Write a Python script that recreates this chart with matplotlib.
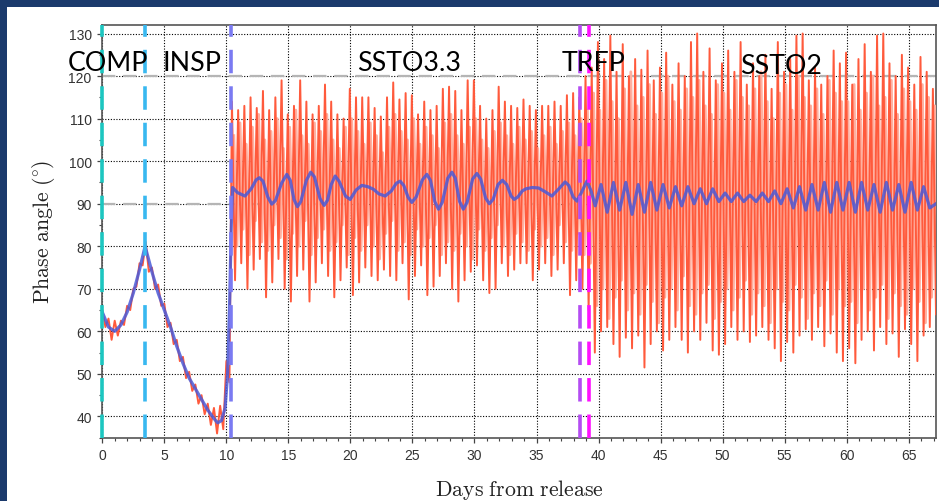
import numpy as np
import matplotlib

matplotlib.use("Agg")
import matplotlib.pyplot as plt
from matplotlib.patches import Rectangle
from matplotlib.ticker import MultipleLocator

plt.rcParams["mathtext.fontset"] = "cm"

# --- phase angle, red trace -------------------------------------------------
# COMP / INSP drift, one sample every quarter day from day 0
early_red = [65, 61, 63, 58, 62.5, 59, 62.5, 61.5, 66, 65, 70, 70.5, 76, 75.5,
             81, 74, 75, 70, 71, 66, 66.5, 61, 62, 57, 58, 53, 54, 49, 50.5,
             46, 47.5, 43, 45, 40.5, 43, 38, 42, 36, 42.5, 37, 53, 48]

# SSTO3.3 swings: one high and one low per half day (outer strokes)
ssto33_high = [114, 112, 113, 115, 112.5, 116.5, 112, 115, 119, 111, 113, 119,
               114, 111, 113, 118, 114, 111, 110,
               117, 115, 115, 115, 112.5, 110.5, 115, 118.5, 114.5, 116, 115.5,
               111, 114, 112, 113, 117, 117.5, 116.5, 112, 119,
               119, 113, 110, 112, 117.5, 114, 113, 112.5, 114.5, 113, 112,
               113, 113, 114, 113, 115.5, 116, 115, 120]
ssto33_low = [72, 76, 70, 74.5, 77, 68, 71.5, 77, 70, 67, 73, 74.5, 67, 71.5,
              76, 73, 68, 72, 75,
              68.5, 71.5, 75, 73, 72, 74.5, 73, 72, 76, 67.5, 73, 75.5, 68.5,
              70.5, 73, 76, 70, 67, 72, 74,
              75.5, 72, 69, 70, 76, 73, 74.5, 76, 76, 72, 74.5, 76, 73, 74.5,
              76, 68.5, 72, 70, 65]
# inner strokes, between the outer ones
ssto33_high_in = [106, 109, 104, 108, 111, 105, 107, 110, 103, 108, 112, 106,
                  104, 109, 107, 111, 105, 103, 108,
                  110, 107, 104, 109, 106, 102, 108, 111, 107, 105, 110, 104,
                  108, 106, 103, 109, 111, 106, 104, 108,
                  110, 105, 103, 107, 109, 106, 104, 108, 105, 107, 103, 106,
                  108, 104, 107, 109, 106, 110, 112]
ssto33_low_in = [80, 84, 78, 86, 81, 79, 85, 82, 77, 83, 80, 86, 78, 82, 84,
                 79, 81, 85, 78,
                 82, 79, 85, 80, 77, 83, 86, 79, 81, 78, 84, 80, 82, 85, 78,
                 81, 79, 83, 80, 77,
                 84, 79, 82, 85, 80, 78, 83, 81, 79, 84, 80, 82, 78, 85, 81,
                 79, 83, 78, 76]

# SSTO2 swings after the TRFP manoeuvre
ssto2_high = [122, 128, 124, 129.5, 121, 127.5, 120, 124, 121.5, 126, 119, 122,
              125.5, 118, 123, 120, 128, 130, 121, 126.5, 119, 123,
              126, 121, 128, 118, 123, 120, 125, 117, 128, 121, 124, 129.5,
              130, 119, 122, 118, 120, 126, 123,
              125.5, 118, 124, 127.5, 121, 129.5, 130, 123, 120, 125, 122,
              118, 124.5, 121, 117]
ssto2_low = [55, 60, 61, 57, 54, 58.5, 56, 59, 51.5, 57, 60, 55.5, 58, 61, 58,
             55, 60, 58, 62, 55.5, 54.5, 57,
             61, 58, 60, 57.5, 59, 61, 58, 56, 53, 57.5, 55, 59, 60.5, 58, 61,
             56.5, 59.5, 55, 53,
             56, 52.5, 58, 60, 55.5, 61, 57, 59.5, 54, 60.5, 57, 53, 59, 61, 64]
ssto2_high_in = [116, 112, 119, 114, 110, 117, 121, 113, 115, 118, 111, 116,
                 120, 114, 112, 117, 115, 119, 113, 111, 118, 116,
                 112, 119, 115, 113, 117, 121, 114, 110, 116, 118, 112, 120,
                 115, 113, 117, 111, 119, 116, 114,
                 114, 118, 112, 116, 120, 113, 115, 119, 111, 117, 114, 112,
                 118, 115, 113]
ssto2_low_in = [66, 70, 63, 68, 72, 65, 69, 64, 71, 67, 62, 68, 70, 65, 73, 66,
                64, 69, 71, 63, 67, 70,
                65, 68, 72, 64, 69, 66, 62, 70, 67, 65, 71, 68, 63, 69, 66, 72,
                64, 70, 66,
                67, 62, 70, 65, 68, 71, 63, 69, 66, 64, 70, 67, 62, 68, 71]

# --- mean phase angle, blue trace ---------------------------------------------
mean_days = [0, 0.5, 1.0, 1.5, 2.0, 2.5, 3.0, 3.45, 4.0, 4.5, 5.0, 5.5, 6.0,
             6.5, 7.0, 7.5, 8.0, 8.5, 9.0, 9.3, 9.6, 9.9, 10.1, 10.25, 10.4,
             10.5, 10.9, 11.5, 12.0, 12.4, 12.66, 12.95, 13.35, 13.66, 13.95,
             14.45, 14.87, 15.15, 15.45, 15.73, 16.0, 16.45, 16.8, 17.1, 17.55,
             17.88, 18.15, 18.45, 18.77, 19.1, 19.6, 19.98, 20.45, 20.92, 21.4,
             21.85, 22.3, 22.8, 23.3, 23.7, 24.0, 24.3, 24.65, 24.95, 25.3,
             25.8, 26.16, 26.45, 26.8, 27.1, 27.4, 27.85, 28.18, 28.45, 28.8,
             29.1, 29.4, 29.85, 30.19, 30.5, 30.9, 31.2, 31.5, 31.9, 32.25,
             32.6, 32.95, 33.2, 33.5, 33.85, 34.15, 34.65, 35.16, 35.7, 36.24,
             36.8, 37.3, 37.6, 37.95, 38.26, 38.6, 39.06, 39.4, 39.73,
             40.2, 40.7, 41.2, 41.7, 42.2, 42.7, 43.2, 43.7, 44.2, 44.7, 45.2,
             45.7, 46.2, 46.7, 47.2, 47.7, 48.2, 48.7, 49.2, 49.7, 50.2, 50.7,
             51.2, 51.7, 52.2, 52.7, 53.2, 53.7, 54.2, 54.7, 55.2, 55.7, 56.2,
             56.7, 57.2, 57.7, 58.2, 58.7, 59.2, 59.7, 60.2, 60.7, 61.2, 61.7,
             62.2, 62.7, 63.2, 63.7, 64.2, 64.7, 65.2, 65.7, 66.2, 66.7, 67.2]
mean_phase = [64.5, 61, 60, 61.5, 64.5, 69, 74.5, 80, 74, 69, 65, 61, 56.5,
              52.5, 49, 46.5, 44, 41.5, 39.5, 38.5, 39, 42, 50, 65, 85,
              93.8, 92.6, 91.8, 93.5, 95.6, 96.1, 95.3, 91.5, 89.9, 90.7,
              94.8, 96.9, 95.5, 91.0, 89.3, 90.5, 95.5, 97.4, 96.3, 91.2,
              89.6, 90.8, 94.5, 96.5, 95.2, 91.8, 91.0, 93.2, 94.3, 94.0,
              93.4, 92.3, 91.8, 93.0, 94.8, 95.3, 94.3, 91.5, 90.3, 91.6,
              95.6, 96.9, 95.5, 90.5, 88.7, 90.3, 96.0, 97.4, 96.0, 90.5,
              88.7, 90.3, 95.8, 97.1, 95.8, 91.3, 90.0, 91.0, 94.5, 95.5,
              94.5, 91.8, 91.0, 91.6, 93.0, 93.5, 93.8, 93.7, 92.8, 91.8,
              93.5, 95.1, 94.3, 91.6, 90.6, 92.5, 95.3, 93.0, 89.5,
              94.5, 88, 95, 88.5, 95, 87.5, 94.5, 88, 95, 88.5, 94.5,
              89, 94, 89.5, 94, 90, 93.5, 90, 93.5, 90.5, 92.5, 90.5,
              92.5, 90.5, 92, 90.5, 92.5, 90.5, 93, 90, 93.5, 89, 94,
              88.5, 94.5, 88.5, 95, 88, 95, 88.5, 95, 88, 95, 88.5,
              94.5, 88, 95, 88.5, 94.5, 88, 95, 88.5, 94, 89, 90]

# event markers (day, colour) and phase labels (day, angle, text)
events = [(0.0, "#1cc6c0"), (3.45, "#38b8f0"), (10.4, "#7a7af2"),
          (38.47, "#b44cf2"), (39.27, "#ff10ff")]
labels = [(-2.77, 121.4, "COMP"), (4.87, 121.4, "INSP"), (20.5, 121.5, "SSTO3.3"),
          (37.0, 121.5, "TRFP"), (51.37, 120.8, "SSTO2")]
ref_angles = [120, 90]


def zigzag(t_high, t_low, high, low):
    t = np.empty(2 * len(high))
    v = np.empty(2 * len(high))
    t[0::2], t[1::2] = t_high, t_low
    v[0::2], v[1::2] = high, low
    return t, v


early_days = np.arange(len(early_red)) * 0.25
k2 = np.arange(len(ssto33_high)) * 0.5
k3 = np.arange(len(ssto2_high)) * 0.5
t2, v2 = zigzag(10.45 + k2, 10.7 + k2, ssto33_high, ssto33_low)
t3, v3 = zigzag(39.45 + k3, 39.7 + k3, ssto2_high, ssto2_low)
red_days = np.concatenate([early_days, t2, t3])
red_phase = np.concatenate([early_red, v2, v3])

t2i, v2i = zigzag(10.6 + k2, 10.85 + k2, ssto33_high_in, ssto33_low_in)
t3i, v3i = zigzag(39.6 + k3, 39.85 + k3, ssto2_high_in, ssto2_low_in)
inner_days = np.concatenate([t2i, t3i])
inner_phase = np.concatenate([v2i, v3i])

fig = plt.figure(figsize=(9.39, 5.02), dpi=100, facecolor="#1b3a6c")
fig.add_artist(Rectangle((7 / 939, 0), 1, 1 - 8 / 502, transform=fig.transFigure,
                         facecolor="white", edgecolor="none", zorder=-5))
ax = fig.add_axes([102.3 / 939, 1 - 438.7 / 502, 833.7 / 939, 412.7 / 502])

ax.plot(inner_days, inner_phase, color="#ffb0a0", lw=2.0, zorder=3)
ax.plot(red_days, red_phase, color="#ff5a3c", lw=1.4, zorder=3)
ax.plot(mean_days, mean_phase, color="#4a5ad8", lw=2.3, alpha=0.85, zorder=4)
for a in ref_angles:
    ax.axhline(a, color="#b5b5b5", lw=1.6, ls=(0, (6, 3.5)), zorder=2)
for d, c in events:
    ax.axvline(d, color=c, lw=2.6, ls=(0, (6.5, 3.6)), zorder=6, clip_on=False)
for d, a, s in labels:
    ax.text(d, a, s, fontsize=19.3, family="Lato", color="black", ha="left",
            va="baseline", clip_on=False, zorder=7)

ax.set_xlim(0, 67.2)
ax.set_ylim(35, 132)
ax.xaxis.set_major_locator(MultipleLocator(5))
ax.xaxis.set_minor_locator(MultipleLocator(1))
ax.yaxis.set_major_locator(MultipleLocator(10))
ax.yaxis.set_minor_locator(MultipleLocator(5))
ax.tick_params(which="major", length=3.6, width=0.9, pad=4, labelsize=10,
               labelcolor="#333333", color="#444444")
ax.tick_params(which="minor", length=2.2, width=0.8, color="#444444")
for lab in ax.get_xticklabels() + ax.get_yticklabels():
    lab.set_family("Liberation Sans")
ax.grid(True, which="major", color="black", lw=0.8, ls=(0, (1, 1.5)), zorder=1)
for sp in ax.spines.values():
    sp.set_color("#555555")
    sp.set_linewidth(1.2)

ax.set_xlabel(r"$\mathrm{Days\ from\ release}$", fontsize=15.7, color="#222222")
ax.set_ylabel(r"$\mathrm{Phase\ angle\ (\!^\circ\!)}$", fontsize=15.7, color="#222222")
ax.xaxis.set_label_coords(0.5, -0.095)
ax.yaxis.set_label_coords(-0.054, 0.5)

fig.savefig("out.png", dpi=100, facecolor=fig.get_facecolor())
